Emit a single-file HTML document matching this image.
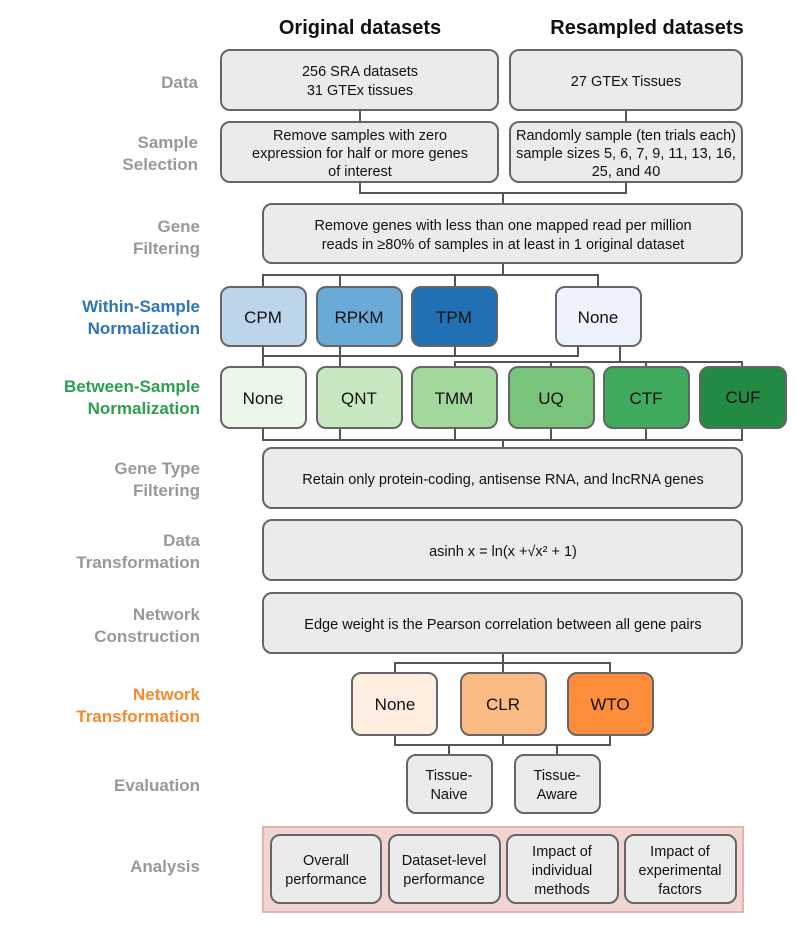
<!DOCTYPE html>
<html><head><style>
body{margin:0;background:#fff;}
svg text{font-family:"Liberation Sans",sans-serif;}
</style></head><body>
<svg width="796" height="920" xmlns="http://www.w3.org/2000/svg">
<g stroke="#555" stroke-width="2" fill="none">
<line x1="360" y1="110" x2="360" y2="122"/><line x1="626" y1="110" x2="626" y2="122"/>
<polyline points="360,182 360,193 626,193 626,182"/><line x1="503" y1="193" x2="503" y2="204"/>
<line x1="503" y1="263" x2="503" y2="275"/>
<polyline points="263,287 263,275 598,275 598,287"/>
<line x1="340" y1="275" x2="340" y2="287"/><line x1="455" y1="275" x2="455" y2="287"/>
<polyline points="263,346 263,356 578,356 578,346"/>
<line x1="340" y1="346" x2="340" y2="367"/><line x1="455" y1="346" x2="455" y2="356"/>
<line x1="263" y1="356" x2="263" y2="367"/>
<line x1="620" y1="346" x2="620" y2="362"/>
<polyline points="455,368 455,362 742,362 742,368"/>
<line x1="551" y1="362" x2="551" y2="368"/><line x1="646" y1="362" x2="646" y2="368"/>
<polyline points="263,428 263,440 742,440 742,428"/>
<line x1="340" y1="428" x2="340" y2="440"/><line x1="455" y1="428" x2="455" y2="440"/>
<line x1="551" y1="428" x2="551" y2="440"/><line x1="646" y1="428" x2="646" y2="440"/>
<line x1="503" y1="440" x2="503" y2="448"/>
<line x1="503" y1="653" x2="503" y2="663"/>
<polyline points="395,673 395,663 610,663 610,673"/>
<line x1="503" y1="663" x2="503" y2="673"/>
<polyline points="395,735 395,745 610,745 610,735"/>
<line x1="503" y1="735" x2="503" y2="745"/>
<line x1="449" y1="745" x2="449" y2="755"/><line x1="557" y1="745" x2="557" y2="755"/>
</g>
<text x="360" y="34" font-size="20" font-weight="bold" text-anchor="middle" fill="#111">Original datasets</text>
<text x="647" y="34" font-size="20" font-weight="bold" text-anchor="middle" fill="#111">Resampled datasets</text>
<g font-size="17" font-weight="bold" text-anchor="end" fill="#999">
<text x="198" y="88">Data</text>
<text x="198" y="148">Sample</text><text x="198" y="170">Selection</text>
<text x="200" y="232">Gene</text><text x="200" y="254">Filtering</text>
<text x="200" y="312" fill="#2e75b6">Within-Sample</text><text x="200" y="334" fill="#2e75b6">Normalization</text>
<text x="200" y="392" fill="#2e9e4f">Between-Sample</text><text x="200" y="414" fill="#2e9e4f">Normalization</text>
<text x="200" y="474">Gene Type</text><text x="200" y="496">Filtering</text>
<text x="200" y="546">Data</text><text x="200" y="568">Transformation</text>
<text x="200" y="620">Network</text><text x="200" y="642">Construction</text>
<text x="200" y="700" fill="#f58a2e">Network</text><text x="200" y="722" fill="#f58a2e">Transformation</text>
<text x="200" y="791">Evaluation</text>
<text x="200" y="872">Analysis</text>
</g>
<rect x="263" y="827" width="480" height="85" fill="#f2d5d3" stroke="#e3b3b0" stroke-width="2"/>
<g stroke="#666" stroke-width="2">
<rect x="221" y="50" width="277" height="60" rx="9" fill="#ebebeb"/>
<rect x="510" y="50" width="232" height="60" rx="9" fill="#ebebeb"/>
<rect x="221" y="122" width="277" height="60" rx="9" fill="#ebebeb"/>
<rect x="510" y="122" width="232" height="60" rx="9" fill="#ebebeb"/>
<rect x="263" y="204" width="479" height="59" rx="9" fill="#ebebeb"/>
<rect x="221" y="287" width="85" height="59" rx="9" fill="#bcd5ea"/>
<rect x="317" y="287" width="85" height="59" rx="9" fill="#6aaad6"/>
<rect x="412" y="287" width="85" height="59" rx="9" fill="#2170b4"/>
<rect x="556" y="287" width="85" height="59" rx="9" fill="#eef2fc"/>
<rect x="221" y="367" width="85" height="61" rx="9" fill="#edf7e9"/>
<rect x="317" y="367" width="85" height="61" rx="9" fill="#c8e8c1"/>
<rect x="412" y="367" width="85" height="61" rx="9" fill="#a2d89b"/>
<rect x="509" y="367" width="85" height="61" rx="9" fill="#77c47a"/>
<rect x="604" y="367" width="85" height="61" rx="9" fill="#3fa95c"/>
<rect x="700" y="367" width="86" height="61" rx="9" fill="#238a44"/>
<rect x="263" y="448" width="479" height="60" rx="9" fill="#ebebeb"/>
<rect x="263" y="520" width="479" height="60" rx="9" fill="#ebebeb"/>
<rect x="263" y="593" width="479" height="60" rx="9" fill="#ebebeb"/>
<rect x="352" y="673" width="85" height="62" rx="9" fill="#fdeedf"/>
<rect x="461" y="673" width="85" height="62" rx="9" fill="#fdbb84"/>
<rect x="568" y="673" width="85" height="62" rx="9" fill="#fd8c3b"/>
<rect x="407" y="755" width="85" height="58" rx="9" fill="#ebebeb"/>
<rect x="515" y="755" width="85" height="58" rx="9" fill="#ebebeb"/>
<rect x="271" y="835" width="110" height="68" rx="9" fill="#ebebeb"/>
<rect x="389" y="835" width="111" height="68" rx="9" fill="#ebebeb"/>
<rect x="507" y="835" width="111" height="68" rx="9" fill="#ebebeb"/>
<rect x="625" y="835" width="111" height="68" rx="9" fill="#ebebeb"/>
</g>
<g font-size="14.5" text-anchor="middle" fill="#111">
<text x="360" y="76">256 SRA datasets</text><text x="360" y="95">31 GTEx tissues</text>
<text x="626" y="86">27 GTEx Tissues</text>
<text x="360" y="140">Remove samples with zero</text><text x="360" y="158">expression for half or more genes</text><text x="360" y="176">of interest</text>
<text x="626" y="140">Randomly sample (ten trials each)</text><text x="626" y="158">sample sizes 5, 6, 7, 9, 11, 13, 16,</text><text x="626" y="176">25, and 40</text>
<text x="503" y="230">Remove genes with less than one mapped read per million</text>
<text x="503" y="249">reads in ≥80% of samples in at least in 1 original dataset</text>
<text x="503" y="484">Retain only protein-coding, antisense RNA, and lncRNA genes</text>
<text x="503" y="556">asinh x = ln(x +√x² + 1)</text>
<text x="503" y="629">Edge weight is the Pearson correlation between all gene pairs</text>
<text x="449" y="780">Tissue-</text><text x="449" y="799">Naive</text>
<text x="557" y="780">Tissue-</text><text x="557" y="799">Aware</text>
<text x="326" y="865">Overall</text><text x="326" y="884">performance</text>
<text x="444" y="865">Dataset-level</text><text x="444" y="884">performance</text>
<text x="562" y="856">Impact of</text><text x="562" y="875">individual</text><text x="562" y="894">methods</text>
<text x="680" y="856">Impact of</text><text x="680" y="875">experimental</text><text x="680" y="894">factors</text>
</g>
<g font-size="17" text-anchor="middle" fill="#111">
<text x="263" y="323">CPM</text><text x="359" y="323">RPKM</text><text x="454" y="323">TPM</text><text x="598" y="323">None</text>
<text x="263" y="404">None</text><text x="359" y="404">QNT</text><text x="454" y="404">TMM</text><text x="551" y="404">UQ</text><text x="646" y="404">CTF</text><text x="743" y="403">CUF</text>
<text x="395" y="710">None</text><text x="503" y="710">CLR</text><text x="610" y="710">WTO</text>
</g>
</svg>
</body></html>
